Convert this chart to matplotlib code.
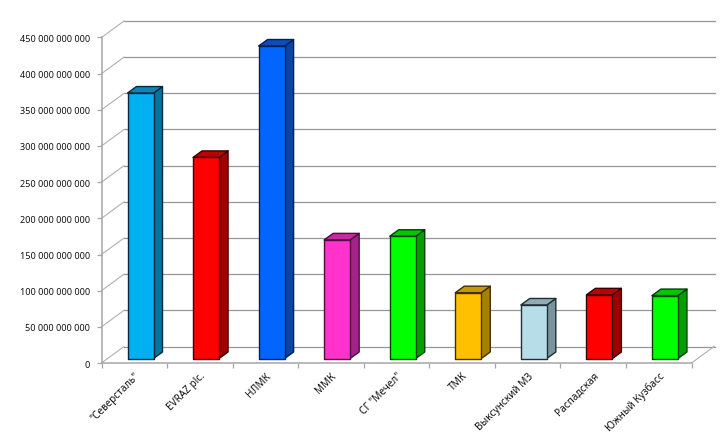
import matplotlib
matplotlib.use("Agg")
import matplotlib.pyplot as plt
from matplotlib.patches import Polygon
from matplotlib.ticker import FuncFormatter

plt.rcParams["font.family"] = "Noto Sans"

companies = ['"Северсталь"', "EVRAZ plc.", "НЛМК", "ММК", 'СГ "Мечел"', "ТМК",
             "Выксунский МЗ", "Распадская", "Южный Кузбасс"]
values = [367e9, 278e9, 432e9, 164e9, 169e9, 91e9, 74e9, 88e9, 87e9]
front_colors = ["#00B0F0", "#FF0000", "#0066FF", "#FF33CC", "#00FF00",
                "#FFC000", "#B7DEE8", "#FF0000", "#00FF00"]
side_colors = ["#0075A0", "#A00000", "#0A44A5", "#A6218C", "#00A000",
               "#A88000", "#7A949B", "#A00000", "#00A000"]
top_colors = ["#0A86B8", "#C00000", "#0A4FC0", "#C828A0", "#00C800",
              "#C89800", "#93ABB2", "#C00000", "#00C800"]
edge_colors = ["#06283F", "#3A0000", "#06204F", "#4A0F3C", "#004000",
               "#3F3000", "#1F2F33", "#3A0000", "#004000"]
y_ticks = [0, 50e9, 100e9, 150e9, 200e9, 250e9, 300e9, 350e9, 400e9, 450e9]

# geometrie en pixels de l'image
W, H = 720, 435
LEFT, RIGHT, BOTTOM, TOP = 101.5, 691.5, 364.0, 38.5
GRID = "#969696"

fig = plt.figure(figsize=(W / 100, H / 100), dpi=100)
ax = fig.add_axes([LEFT / W, 1 - BOTTOM / H, (RIGHT - LEFT) / W, (BOTTOM - TOP) / H])
ax.set_xlim(0, len(companies))
ax.set_ylim(0, 450e9)

px_x = len(companies) / (RIGHT - LEFT)
px_y = 450e9 / (BOTTOM - TOP)
wall_dx, wall_dy = 22.5 * px_x, 16.5 * px_y
gap_dx, gap_dy = 6.0 * px_x, 4.5 * px_y
bar_dx, bar_dy = 9.0 * px_x, 6.5 * px_y
bar_w = 26.0 * px_x
bar_off = (127.5 - LEFT) * px_x - gap_dx


def poly(points, face, edge, lw=1.0, z=3):
    ax.add_patch(Polygon(points, closed=True, facecolor=face, edgecolor=edge,
                         linewidth=lw, joinstyle="round", clip_on=False, zorder=z))


# grille du fond et liaisons obliques
end_x = (715 - LEFT) * px_x
for t in y_ticks:
    ax.plot([wall_dx, end_x], [t + wall_dy, t + wall_dy], color=GRID, lw=0.9,
            clip_on=False, zorder=1)
    ax.plot([0, wall_dx], [t, t + wall_dy], color="#B0B0B0", lw=0.8,
            clip_on=False, zorder=1)
ax.plot([len(companies), len(companies) + wall_dx], [0, wall_dy], color="#B0B0B0",
        lw=0.8, clip_on=False, zorder=1)

for i, v in enumerate(values):
    x0 = i + bar_off + gap_dx
    x1 = x0 + bar_w
    y0 = gap_dy
    y1 = gap_dy + v
    poly([(x1, y0), (x1 + bar_dx, y0 + bar_dy), (x1 + bar_dx, y1 + bar_dy), (x1, y1)],
         side_colors[i], edge_colors[i])
    poly([(x0, y1), (x1, y1), (x1 + bar_dx, y1 + bar_dy), (x0 + bar_dx, y1 + bar_dy)],
         top_colors[i], edge_colors[i])
    poly([(x0, y0), (x1, y0), (x1, y1), (x0, y1)], front_colors[i], edge_colors[i], z=4)

for s in ["top", "right"]:
    ax.spines[s].set_visible(False)
for s in ["left", "bottom"]:
    ax.spines[s].set_color("#A6A6A6")
    ax.spines[s].set_linewidth(1.1)

ax.set_yticks(y_ticks)
ax.yaxis.set_major_formatter(
    FuncFormatter(lambda v, p: f"{int(v):,}".replace(",", " ")))
ax.tick_params(axis="y", length=3.5, width=0.9, color="#A6A6A6", pad=5,
               labelsize=6.5, labelcolor="#111111")

# graduations entre categories, etiquettes au centre
ax.set_xticks(range(len(companies) + 1))
ax.set_xticklabels([])
ax.set_xticks([i + 0.5 for i in range(len(companies))], minor=True)
ax.set_xticklabels(companies, minor=True, rotation=45, ha="right",
                   rotation_mode="anchor", fontsize=7.2, color="#111111")
ax.tick_params(axis="x", which="major", length=3.5, width=0.9, color="#A6A6A6")
ax.tick_params(axis="x", which="minor", length=0, pad=5)

fig.savefig("out.png", dpi=100)
